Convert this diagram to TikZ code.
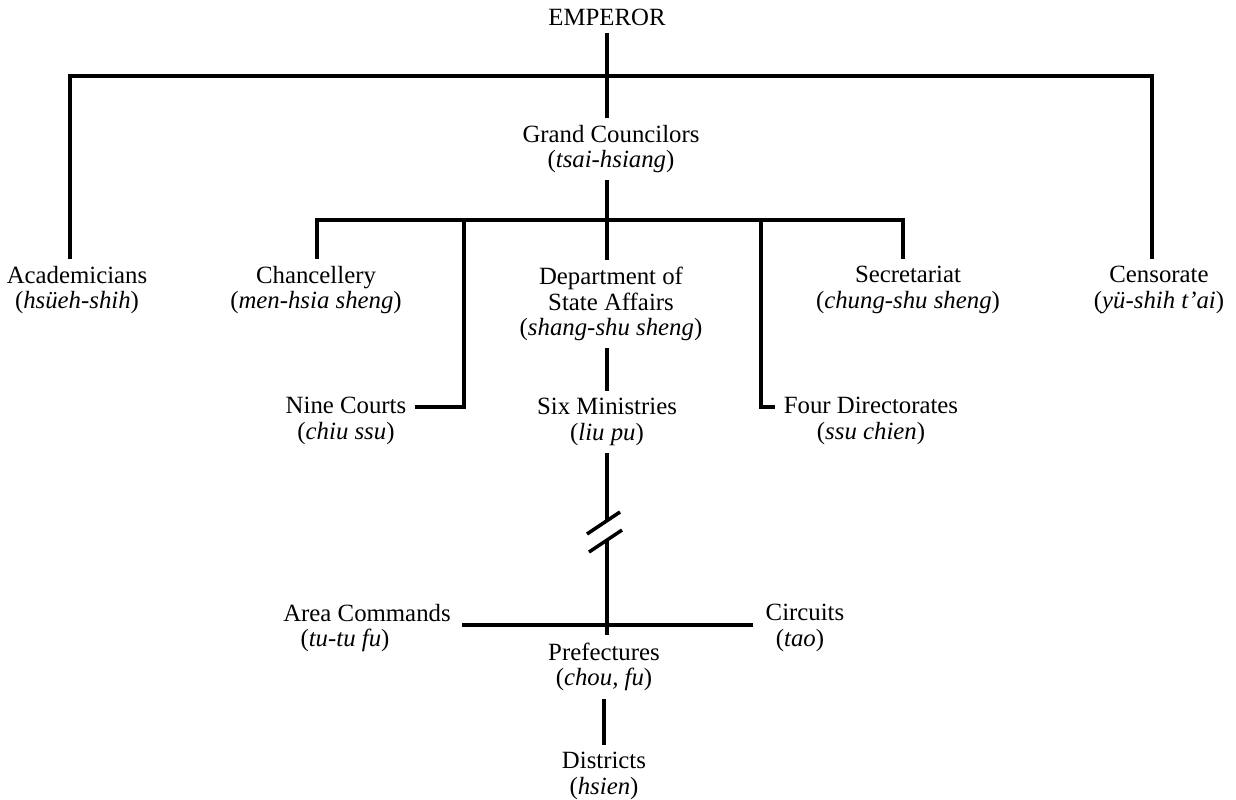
\documentclass[tikz,border=0pt]{standalone}
\usepackage{fontspec}
\setmainfont{Liberation Serif}
\usetikzlibrary{calc}
\begin{document}
\begin{tikzpicture}[x=0.5pt,y=-0.5pt,
  lbl/.style={align=center, inner xsep=4pt, inner ysep=3.5pt,
              font=\fontsize{12.4}{12.8}\selectfont},
  wire/.style={line width=1.75pt}]
\useasboundingbox (0,0) rectangle (1236,799);

% offices
\node[lbl] (emp)  at (607,17)  {EMPEROR};
\node[lbl] (gc)   at (611,149) {Grand Councilors\\(\textit{tsai-hsiang})};
\node[lbl] (acad) at (77,290)  {Academicians\\(\textit{hsüeh-shih})};
\node[lbl] (chan) at (316,290) {Chancellery\\(\textit{men-hsia sheng})};
\node[lbl] (dept) at (611,304) {Department of\\State Affairs\\(\textit{shang-shu sheng})};
\node[lbl] (sec)  at (908,290) {Secretariat\\(\textit{chung-shu sheng})};
\node[lbl] (cens) at (1159,290) {Censorate\\(\textit{yü-shih t'ai})};
\node[lbl] (nine) at (346,421) {Nine Courts\\(\textit{chiu ssu})};
\node[lbl] (six)  at (607,422) {Six Ministries\\(\textit{liu pu})};
\node[lbl] (four) at (871,421) {Four Directorates\\(\textit{ssu chien})};
\node[lbl] (area) at (367,628) {Area Commands\\(\textit{tu-tu fu})\rule{22pt}{0pt}};
\node[lbl] (circ) at (805,628) {Circuits\\(\textit{tao})\rule{5pt}{0pt}};
\node[lbl] (pref) at (604,667) {Prefectures\\(\textit{chou, fu})};
\node[lbl] (dist) at (604,776) {Districts\\(\textit{hsien})};

% junction points
\coordinate (ta) at (70,76);
\coordinate (te) at (607,76);
\coordinate (tc) at (1152,76);
\coordinate (mc) at (317,220);
\coordinate (mn) at (464,220);
\coordinate (md) at (607,220);
\coordinate (mf) at (761,220);
\coordinate (ms) at (903,220);
\coordinate (nc) at (464,407);
\coordinate (fc) at (761,407);
\coordinate (b1) at (607,521);
\coordinate (b2) at (607,540);
\coordinate (hl) at (462,625);
\coordinate (hr) at (753,625);
\coordinate (pd) at (604,700);

% emperor level
\draw[wire] (te |- emp.south) -- (te |- gc.north);
\draw[wire] (ta |- acad.north) -- (ta) -- (tc) -- (tc |- cens.north);

% grand councilors level
\draw[wire] (md |- gc.south) -- (md |- dept.north);
\draw[wire] (mc |- chan.north) -- (mc) -- (ms) -- (ms |- sec.north);
\draw[wire] (mn) -- (nc) -- (nc -| nine.east);
\draw[wire] (mf) -- (fc) -- (fc -| four.west);

% ministries and the break in the line
\draw[wire] (md |- dept.south) -- (md |- six.north);
\draw[wire] (md |- six.south) -- (b1);
\draw[wire] ($(b1)+(-20,13)$) -- ($(b1)+(13,-9)$);
\draw[wire] ($(b2)+(-18,12)$) -- ($(b2)+(15,-10)$);
\draw[wire] (b2) -- (b2 |- pref.north);

% provincial level
\draw[wire] (hl) -- (hr);
\draw[wire] (pd |- pref.south) -- (pd |- dist.north);
\end{tikzpicture}
\end{document}
